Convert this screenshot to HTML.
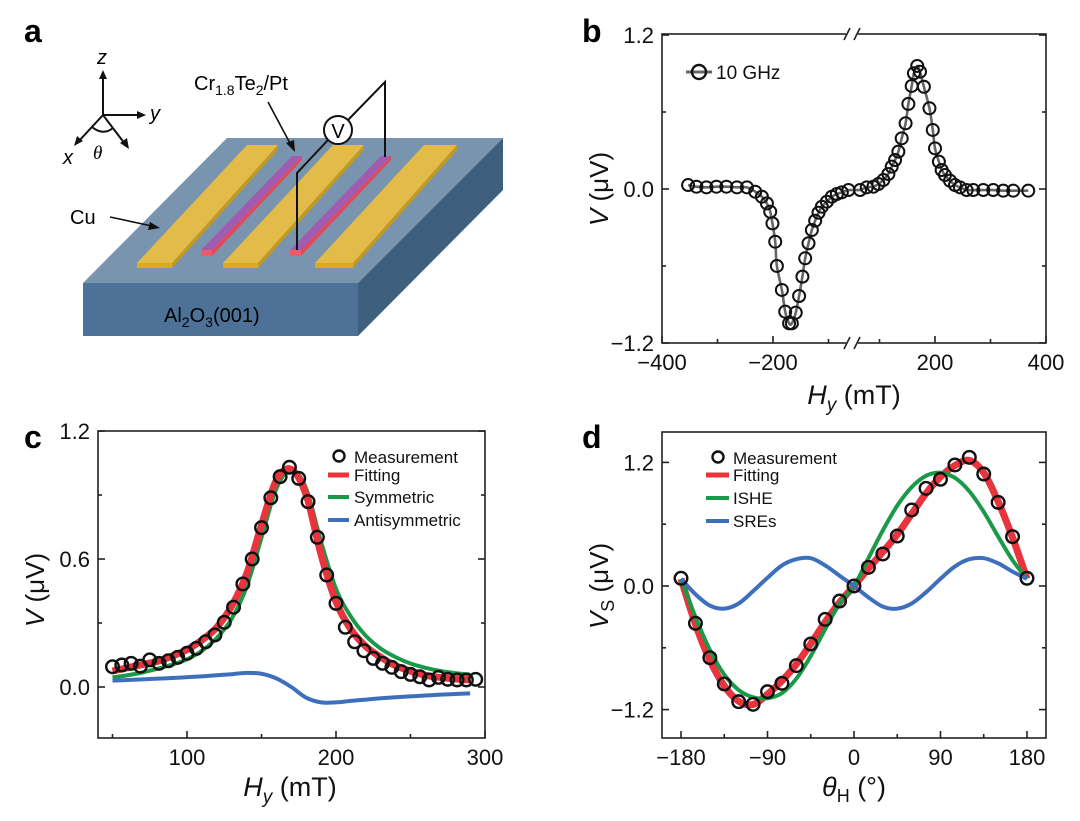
<!DOCTYPE html>
<html><head><meta charset="utf-8"><style>
body{margin:0;background:#fff;}
svg{display:block;font-family:"Liberation Sans",sans-serif;}
</style></head><body>
<svg id="fig" width="1080" height="821" viewBox="0 0 1080 821" xmlns="http://www.w3.org/2000/svg">
<!-- Panel letters -->
<text x="24" y="42" font-size="32" font-weight="bold">a</text>
<text x="582" y="42" font-size="32" font-weight="bold">b</text>
<text x="24" y="448" font-size="32" font-weight="bold">c</text>
<text x="582" y="448" font-size="32" font-weight="bold">d</text>

<!-- Panel a schematic -->
<g>
 <polygon points="83,283 358,283 503,138 227,138" fill="#7894ae"/>
 <polygon points="83,283 358,283 358,336 83,336" fill="#4e7297"/>
 <polygon points="358,283 503,138 503,190 358,336" fill="#3f5f7f"/>
 <g>
  <polygon points="137,263 172,263 278,145 247,145" fill="#e2bb48"/>
  <polygon points="137,263 172,263 172,268 137,268" fill="#d8ac1e"/>
  <polygon points="172,263 278,145 278,150 172,268" fill="#c39a20"/>
 </g>
 <g>
  <polygon points="223,263 258,263 364,145 333,145" fill="#e2bb48"/>
  <polygon points="223,263 258,263 258,268 223,268" fill="#d8ac1e"/>
  <polygon points="258,263 364,145 364,150 258,268" fill="#c39a20"/>
 </g>
 <g>
  <polygon points="315,263 353,263 457,145 424,145" fill="#e2bb48"/>
  <polygon points="315,263 353,263 353,268 315,268" fill="#d8ac1e"/>
  <polygon points="353,263 457,145 457,150 353,268" fill="#c39a20"/>
 </g>
 <g>
  <polygon points="201,250 212,250 302,156 292,156" fill="#a05cb0"/>
  <polygon points="201,250 212,250 212,256 201,256" fill="#ef5a6a"/>
  <polygon points="212,250 302,156 302,160 212,256" fill="#e24a5c"/>
 </g>
 <g>
  <polygon points="290,250 301,250 391,156 381,156" fill="#a05cb0"/>
  <polygon points="290,250 301,250 301,256 290,256" fill="#ef5a6a"/>
  <polygon points="301,250 391,156 391,160 301,256" fill="#e24a5c"/>
 </g>
 <polyline points="297,250 297,173 328,140" fill="none" stroke="#111" stroke-width="2"/>
 <polyline points="348,120 385,82 385,157" fill="none" stroke="#111" stroke-width="2"/>
 <circle cx="338" cy="130" r="14" fill="#fff" stroke="#111" stroke-width="2"/>
 <text x="338" y="138" font-size="20" text-anchor="middle">V</text>
 <text x="194" y="90" font-size="20">Cr<tspan font-size="14" dy="5">1.8</tspan><tspan dy="-5">Te</tspan><tspan font-size="14" dy="5">2</tspan><tspan dy="-5">/Pt</tspan></text>
 <line x1="268" y1="102" x2="292" y2="147" stroke="#111" stroke-width="1.6"/>
 <polygon points="295,152 286,143 294,140" fill="#111"/>
 <text x="70" y="224" font-size="20">Cu</text>
 <line x1="110" y1="217" x2="152" y2="226" stroke="#111" stroke-width="1.6"/>
 <polygon points="160,228 150,222 148,230" fill="#111"/>
 <text x="164" y="322" font-size="20">Al<tspan font-size="14" dy="5">2</tspan><tspan dy="-5">O</tspan><tspan font-size="14" dy="5">3</tspan><tspan dy="-5">(001)</tspan></text>
 <g stroke="#111" stroke-width="2" fill="none">
  <line x1="103" y1="115" x2="103" y2="76"/>
  <line x1="103" y1="115" x2="140" y2="115"/>
  <line x1="103" y1="115" x2="78" y2="142"/>
  <line x1="103" y1="115" x2="125" y2="144"/>
  <path d="M92,127 Q103,136 113,128"/>
 </g>
 <polygon points="103,70 99,79 107,79" fill="#111"/>
 <polygon points="146,115 137,111 137,119" fill="#111"/>
 <polygon points="74,146 77,136 83,141" fill="#111"/>
 <polygon points="129,149 120,143 127,138" fill="#111"/>
 <text x="97" y="64" font-size="20" font-style="italic">z</text>
 <text x="150" y="120" font-size="20" font-style="italic">y</text>
 <text x="63" y="164" font-size="20" font-style="italic">x</text>
 <text x="93" y="159" font-size="19" font-style="italic" font-family="Liberation Serif,serif">θ</text>
</g>

<g id="pb"></g>
<g id="pc"></g>
<g id="pd"></g>
</svg>
<script>
// ---------- Panel b data ----------
const bFieldLeft = [-353,-338,-320,-302,-284,-265,-247,-232,-220,-211,-205,-201,-196,-193,-184,-178,-171,-166,-159,-153,-147,-142,-136,-130,-124,-118,-112,-103,-94,-85,-76,-64];
const bVoltLeft = [0.031,0.018,0.013,0.018,0.018,0.013,0.013,-0.021,-0.060,-0.112,-0.177,-0.268,-0.411,-0.600,-0.787,-0.956,-1.047,-1.047,-0.964,-0.834,-0.683,-0.540,-0.423,-0.320,-0.247,-0.185,-0.138,-0.099,-0.060,-0.039,-0.026,-0.008];
const bFieldRight = [65,77,89,98,107,116,122,128,134,140,147,152,158,162,168,173,180,190,196,200,207,212,218,227,236,245,257,269,287,305,323,341,368];
const bVoltRight = [-0.008,0.013,0.018,0.039,0.070,0.117,0.174,0.226,0.291,0.395,0.512,0.663,0.803,0.902,0.959,0.914,0.797,0.629,0.460,0.317,0.213,0.148,0.109,0.065,0.031,0.013,-0.008,-0.008,-0.008,-0.008,-0.013,-0.013,-0.013];
const bYTicks = [1.2,0.0,-1.2];
const bYTickLabels = ["1.2","0.0","\u22121.2"];
const bXTicks = [-400,-200,200,400];
const bXTickLabels = ["\u2212400","\u2212200","200","400"];

// ---------- Panel c data ----------
const cFieldMeas = [50,56.25,62.5,68.75,75,81.25,87.5,93.75,100,106.25,112.5,118.75,125,131.25,137.5,143.75,150,156.25,162.5,168.75,175,181.25,187.5,193.75,200,206.25,212.5,218.75,225,231.25,237.5,243.75,250,256.25,262.5,268.75,275,281.25,287.5,293.75];
const cVoltMeas = [0.095,0.103,0.111,0.098,0.127,0.111,0.123,0.139,0.158,0.181,0.212,0.244,0.303,0.374,0.483,0.600,0.747,0.887,0.986,1.030,0.978,0.869,0.702,0.525,0.392,0.280,0.212,0.170,0.134,0.111,0.092,0.072,0.059,0.048,0.033,0.045,0.036,0.033,0.033,0.036];
const cFieldCurve = [50,60,70,80,90,100,110,120,130,140,150,160,170,180,190,200,210,220,230,240,250,260,270,280,290];
const cFit = [0.075,0.09,0.105,0.12,0.145,0.175,0.22,0.28,0.38,0.53,0.76,0.97,1.02,0.90,0.62,0.40,0.27,0.19,0.14,0.10,0.075,0.055,0.045,0.038,0.033];
const cSym = [0.045,0.055,0.068,0.085,0.105,0.13,0.17,0.23,0.32,0.47,0.70,0.93,1.02,0.93,0.68,0.46,0.33,0.24,0.18,0.14,0.11,0.09,0.075,0.065,0.058];
const cAnti = [0.030,0.033,0.036,0.039,0.042,0.046,0.050,0.055,0.060,0.066,0.062,0.040,0.000,-0.050,-0.072,-0.072,-0.065,-0.059,-0.053,-0.048,-0.044,-0.040,-0.036,-0.033,-0.030];
const cYTicks = [0,0.6,1.2];
const cYTickLabels = ["0.0","0.6","1.2"];
const cXTicks = [100,200,300];
const cXTickLabels = ["100","200","300"];

// ---------- Panel d data ----------
const dAngle = [-180,-165,-150,-135,-120,-105,-90,-75,-60,-45,-30,-15,0,15,30,45,60,75,90,105,120,135,150,165,180];
const dMeas = [0.075,-0.362,-0.696,-0.951,-1.123,-1.149,-1.026,-0.945,-0.773,-0.563,-0.324,-0.146,0,0.181,0.311,0.485,0.738,0.948,1.036,1.175,1.249,1.087,0.812,0.479,0.075];
const dFit = [0.07,-0.37,-0.72,-0.97,-1.12,-1.15,-1.05,-0.92,-0.76,-0.56,-0.35,-0.16,0,0.17,0.33,0.50,0.70,0.90,1.06,1.17,1.22,1.10,0.82,0.47,0.07];
const dISHE = [0.07,-0.30,-0.62,-0.86,-1.01,-1.08,-1.09,-1.04,-0.90,-0.68,-0.42,-0.17,0.0,0.27,0.54,0.78,0.96,1.07,1.10,1.05,0.92,0.72,0.48,0.25,0.07];
const dSREs = [0.07,-0.08,-0.19,-0.22,-0.17,-0.05,0.08,0.20,0.26,0.27,0.20,0.10,0.0,-0.11,-0.20,-0.22,-0.17,-0.06,0.07,0.19,0.26,0.27,0.22,0.14,0.07];
const dYTicks = [1.2,0,-1.2];
const dYTickLabels = ["1.2","0.0","\u22121.2"];
const dXTicks = [-180,-90,0,90,180];
const dXTickLabels = ["\u2212180","\u221290","0","90","180"];

const NS = "http://www.w3.org/2000/svg";
function mk(parent, tag, attrs){ const e=document.createElementNS(NS,tag); for(const k in attrs) e.setAttribute(k,attrs[k]); parent.appendChild(e); return e; }
function smooth(pts){
  let d="M"+pts[0][0]+","+pts[0][1];
  for(let i=0;i<pts.length-1;i++){
    const p0=pts[Math.max(0,i-1)],p1=pts[i],p2=pts[i+1],p3=pts[Math.min(pts.length-1,i+2)];
    const c1x=p1[0]+(p2[0]-p0[0])/6,c1y=p1[1]+(p2[1]-p0[1])/6;
    const c2x=p2[0]-(p3[0]-p1[0])/6,c2y=p2[1]-(p3[1]-p1[1])/6;
    d+=" C"+c1x+","+c1y+" "+c2x+","+c2y+" "+p2[0]+","+p2[1];
  }
  return d;
}
function frame(g,L,T,R,B){
  const f=mk(g,"rect",{x:L,y:T,width:R-L,height:B-T,fill:"none",stroke:"#222","stroke-width":1.6});
  
  
}
function tick(g,x1,y1,x2,y2){ mk(g,"line",{x1,y1,x2,y2,stroke:"#222","stroke-width":1.6}); }
function txt(g,x,y,s,size,anchor,name){
  const t=mk(g,"text",{x,y,"font-size":size,"text-anchor":anchor,fill:"#111"}); t.textContent=s;
  
  
  return t;
}
function circ(g,x,y,r,sw,name){
  const c=mk(g,"circle",{cx:x,cy:y,r,fill:"none",stroke:"#111","stroke-width":sw});
  
  
}

// ---------- Panel b ----------
(function(){
  const g=document.getElementById("pb");
  const L=662,T=34,R=1046,B=343,BRK=852;
  const x=v=> v<0 ? 773+(v+200)*111/200 : 935+(v-200)*111/200;
  const y=v=> 189-v*128.3;
  frame(g,L,T,R,B);
  [T,B].forEach(yy=>{
    mk(g,"rect",{x:BRK-6,y:yy-3,width:12,height:6,fill:"#fff"});
    tick(g,BRK-8,yy+6,BRK-2,yy-6); tick(g,BRK+2,yy+6,BRK+8,yy-6);
  });
  bYTicks.forEach((v,i)=>{ tick(g,L,y(v),L+7,y(v)); tick(g,R,y(v),R-7,y(v)); txt(g,654,y(v)+8,bYTickLabels[i],22,"end","y-tick-label-b"); });
  [0.6,-0.6].forEach(v=>{ tick(g,L,y(v),L+4,y(v)); tick(g,R,y(v),R-4,y(v)); });
  bXTicks.forEach((v,i)=>{ tick(g,x(v),B,x(v),B-7); txt(g,x(v),370,bXTickLabels[i],22,"middle","x-tick-label-b"); });
  [-300,-100,100,300].forEach(v=>tick(g,x(v),B,x(v),B-4));
  const pL=bFieldLeft.map((h,i)=>[x(h),y(bVoltLeft[i])]);
  const pR=bFieldRight.map((h,i)=>[x(h),y(bVoltRight[i])]);
  const ln=mk(g,"path",{d:smooth(pL)+" "+smooth(pR).replace("M","L"),fill:"none",stroke:"#666","stroke-width":2.6});
  
  
  pL.concat(pR).forEach(p=>circ(g,p[0],p[1],6,2,"point-10ghz"));
  mk(g,"line",{x1:686,y1:72,x2:712,y2:72,stroke:"#666","stroke-width":3});
  circ(g,699,72,7,2.4,"legend-marker-10ghz");
  txt(g,716,79,"10 GHz",19,"start","legend-entry-10ghz");
  const yt=txt(g,608,189,"",26,"middle","y-axis-title-b"); yt.setAttribute("transform","rotate(-90 608 189)");
  yt.innerHTML='<tspan font-style="italic">V</tspan> (μV)';
  const xt=txt(g,854,404,"",27,"middle","x-axis-title-b");
  xt.innerHTML='<tspan font-style="italic">H</tspan><tspan font-style="italic" font-size="19" dy="7">y</tspan><tspan dy="-7"> (mT)</tspan>';
})();

// ---------- Panel c ----------
(function(){
  const g=document.getElementById("pc");
  const L=98,T=431,R=485,B=738;
  const x=v=> 187+(v-100)*1.49;
  const y=v=> 687-v*213.3;
  frame(g,L,T,R,B);
  cYTicks.forEach((v,i)=>{ tick(g,L,y(v),L+7,y(v)); tick(g,R,y(v),R-7,y(v)); txt(g,90,y(v)+8,cYTickLabels[i],22,"end","y-tick-label-c"); });
  [0.3,0.9].forEach(v=>{ tick(g,L,y(v),L+4,y(v)); tick(g,R,y(v),R-4,y(v)); });
  cXTicks.forEach((v,i)=>{ tick(g,x(v),B,x(v),B-7); txt(g,x(v),765,cXTickLabels[i],22,"middle","x-tick-label-c"); });
  [50,150,250].forEach(v=>tick(g,x(v),B,x(v),B-4));
  const series=[[cSym,"#1a9a48",4,"symmetric-curve"],[cFit,"#e8343c",7,"fitting-curve"],[cAnti,"#3e6fbd",4,"antisymmetric-curve"]];
  series.forEach(s=>{
    const p=mk(g,"path",{d:smooth(cFieldCurve.map((h,i)=>[x(h),y(s[0][i])])),fill:"none",stroke:s[1],"stroke-width":s[2]});
    
    
  });
  cFieldMeas.forEach((h,i)=>circ(g,x(h),y(cVoltMeas[i]),6.3,2.4,"measurement-point-c"));
  circ(g,339,456,5.5,2.4,"legend-marker-measurement-c");
  txt(g,354,463,"Measurement",17,"start","legend-entry-measurement-c");
  const lg=[["Fitting","#e8343c",5,481,"legend-entry-fitting-c"],["Symmetric","#1a9a48",4,503,"legend-entry-symmetric-c"],["Antisymmetric","#3e6fbd",4,526,"legend-entry-antisymmetric-c"]];
  lg.forEach(l=>{ mk(g,"line",{x1:328,y1:l[3]-6,x2:349,y2:l[3]-6,stroke:l[1],"stroke-width":l[2]}); txt(g,354,l[3],l[0],17,"start",l[4]); });
  const yt=txt(g,44,590,"",26,"middle","y-axis-title-c"); yt.setAttribute("transform","rotate(-90 44 590)");
  yt.innerHTML='<tspan font-style="italic">V</tspan> (μV)';
  const xt=txt(g,290,796,"",27,"middle","x-axis-title-c");
  xt.innerHTML='<tspan font-style="italic">H</tspan><tspan font-style="italic" font-size="19" dy="7">y</tspan><tspan dy="-7"> (mT)</tspan>';
})();

// ---------- Panel d ----------
(function(){
  const g=document.getElementById("pd");
  const L=662,T=432,R=1046,B=738;
  const x=v=> 854+v*0.961;
  const y=v=> 586-v*103;
  frame(g,L,T,R,B);
  dYTicks.forEach((v,i)=>{ tick(g,L,y(v),L+7,y(v)); tick(g,R,y(v),R-7,y(v)); txt(g,654,y(v)+8,dYTickLabels[i],22,"end","y-tick-label-d"); });
  [0.6,-0.6].forEach(v=>{ tick(g,L,y(v),L+4,y(v)); tick(g,R,y(v),R-4,y(v)); });
  dXTicks.forEach((v,i)=>{ tick(g,x(v),B,x(v),B-7); txt(g,x(v),765,dXTickLabels[i],22,"middle","x-tick-label-d"); });
  [-135,-45,45,135].forEach(v=>tick(g,x(v),B,x(v),B-4));
  const series=[[dFit,"#e8343c",7,"fitting-curve-d"],[dISHE,"#1a9a48",4,"ishe-curve"],[dSREs,"#3e6fbd",4,"sres-curve"]];
  series.forEach(s=>{
    const p=mk(g,"path",{d:smooth(dAngle.map((a,i)=>[x(a),y(s[0][i])])),fill:"none",stroke:s[1],"stroke-width":s[2]});
    
    
  });
  dAngle.forEach((a,i)=>circ(g,x(a),y(dMeas[i]),6.3,2.4,"measurement-point-d"));
  circ(g,718,457,5.5,2.4,"legend-marker-measurement-d");
  txt(g,733,464,"Measurement",17,"start","legend-entry-measurement-d");
  const lg=[["Fitting","#e8343c",5,481,"legend-entry-fitting-d"],["ISHE","#1a9a48",4,504,"legend-entry-ishe"],["SREs","#3e6fbd",4,527,"legend-entry-sres"]];
  lg.forEach(l=>{ mk(g,"line",{x1:706,y1:l[3]-6,x2:729,y2:l[3]-6,stroke:l[1],"stroke-width":l[2]}); txt(g,733,l[3],l[0],17,"start",l[4]); });
  const yt=txt(g,608,586,"",26,"middle","y-axis-title-d"); yt.setAttribute("transform","rotate(-90 608 586)");
  yt.innerHTML='<tspan font-style="italic">V</tspan><tspan font-size="18" dy="6">S</tspan><tspan dy="-6"> (μV)</tspan>';
  const xt=txt(g,854,796,"",27,"middle","x-axis-title-d");
  xt.innerHTML='<tspan font-style="italic">θ</tspan><tspan font-size="18" dy="6">H</tspan><tspan dy="-6"> (°)</tspan>';
})();
</script>
</body></html>
